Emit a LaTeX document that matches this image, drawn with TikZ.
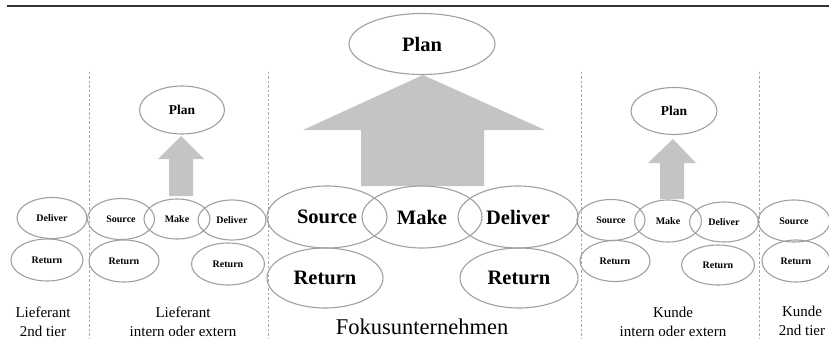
\documentclass[tikz,border=0pt]{standalone}
\usepackage{fontspec}
\setmainfont{Liberation Serif}
\usetikzlibrary{shapes.geometric}
\definecolor{ellgray}{HTML}{A0A0A0}
\definecolor{arrgray}{HTML}{C4C4C4}
\definecolor{sepgray}{HTML}{A8A8A8}
\definecolor{topgray}{HTML}{333333}
\begin{document}
\begin{tikzpicture}[x=1pt,y=-1pt,
  ell/.style={draw=ellgray, line width=1.1pt, ellipse, inner sep=0pt},
  sm/.style={ell, font=\bfseries\fontsize{10}{12}\selectfont},
  smplan/.style={ell, font=\bfseries\fontsize{13.5}{16}\selectfont},
  big/.style={ell, font=\bfseries\fontsize{20.5}{24}\selectfont},
  lbl/.style={align=center, inner sep=0pt, font=\fontsize{15}{19}\selectfont},
  fokus/.style={inner sep=0pt, font=\fontsize{22.5}{26}\selectfont},
  blockarrow/.style={fill=arrgray, draw=none},
  sepline/.style={draw=sepgray, dash pattern=on 2.5pt off 2pt, line width=0.7pt},
  topline/.style={draw=topgray, line width=1.4pt}]
\useasboundingbox (0,0) rectangle (829,350);

% top rule
\coordinate (tl) at (7,6);
\coordinate (tr) at (829,6);
\draw[topline] (tl) -- (tr);

% separators
\foreach \n/\x in {s1/89,s2/268,s3/581,s4/759}{
  \coordinate (\n a) at (\x,72);
  \coordinate (\n b) at (\x,338);
  \draw[sepline] (\n a) -- (\n b);
}

% block arrows
\fill[blockarrow] (169,196) -- (169,159) -- (158,159) -- (181,136) -- (204,159) -- (193,159) -- (193,196) -- cycle;
\fill[blockarrow] (361,186) -- (361,130) -- (303,130) -- (423,75) -- (545,130) -- (484,130) -- (484,186) -- cycle;
\fill[blockarrow] (660,199) -- (660,163) -- (648,163) -- (673,139) -- (696,163) -- (684,163) -- (684,199) -- cycle;

% column 1: Lieferant 2nd tier
\node[sm, minimum width=70, minimum height=41] (l2del) at (52,218) {Deliver};
\node[sm, minimum width=72, minimum height=42] (l2ret) at (47,260) {Return};
\node[lbl] (l2lab) at (43,322) {Lieferant\\2nd tier};

% column 2: Lieferant intern oder extern
\node[smplan, minimum width=85, minimum height=48] (l1plan) at (182,110) {Plan};
\node[sm, minimum width=67, minimum height=41] (l1src) at (121,219) {Source};
\node[sm, minimum width=66, minimum height=40] (l1mak) at (177,219) {Make};
\node[sm, minimum width=68, minimum height=40] (l1del) at (232,220) {Deliver};
\node[sm, minimum width=70, minimum height=42] (l1retl) at (124,261) {Return};
\node[sm, minimum width=73, minimum height=42] (l1retr) at (228,264) {Return};
\node[lbl] (l1lab) at (183,322) {Lieferant\\intern oder extern};

% column 3: Fokusunternehmen
\node[big, minimum width=146, minimum height=61] (fplan) at (422,44) {Plan};
\node[big, minimum width=120, minimum height=62] (fsrc) at (327,217) {Source};
\node[big, minimum width=120, minimum height=62] (fmak) at (422,217) {Make};
\node[big, minimum width=120, minimum height=62] (fdel) at (518,217) {Deliver};
\node[big, minimum width=116, minimum height=60] (fretl) at (325,278) {Return};
\node[big, minimum width=118, minimum height=60] (fretr) at (519,278) {Return};
\node[fokus] (flab) at (422,327) {Fokusunternehmen};

% column 4: Kunde intern oder extern
\node[smplan, minimum width=86, minimum height=47] (k1plan) at (674,111) {Plan};
\node[sm, minimum width=68, minimum height=41] (k1src) at (611,220) {Source};
\node[sm, minimum width=67, minimum height=42] (k1mak) at (668,221) {Make};
\node[sm, minimum width=69, minimum height=40] (k1del) at (724,222) {Deliver};
\node[sm, minimum width=70, minimum height=41] (k1retl) at (615,261) {Return};
\node[sm, minimum width=73, minimum height=40] (k1retr) at (718,265) {Return};
\node[lbl] (k1lab) at (673,322) {Kunde\\intern oder extern};

% column 5: Kunde 2nd tier
\node[sm, minimum width=72, minimum height=42] (k2src) at (794,221) {Source};
\node[sm, minimum width=68, minimum height=42] (k2ret) at (796,261) {Return};
\node[lbl] (k2lab) at (802,321) {Kunde\\2nd tier};
\end{tikzpicture}
\end{document}
